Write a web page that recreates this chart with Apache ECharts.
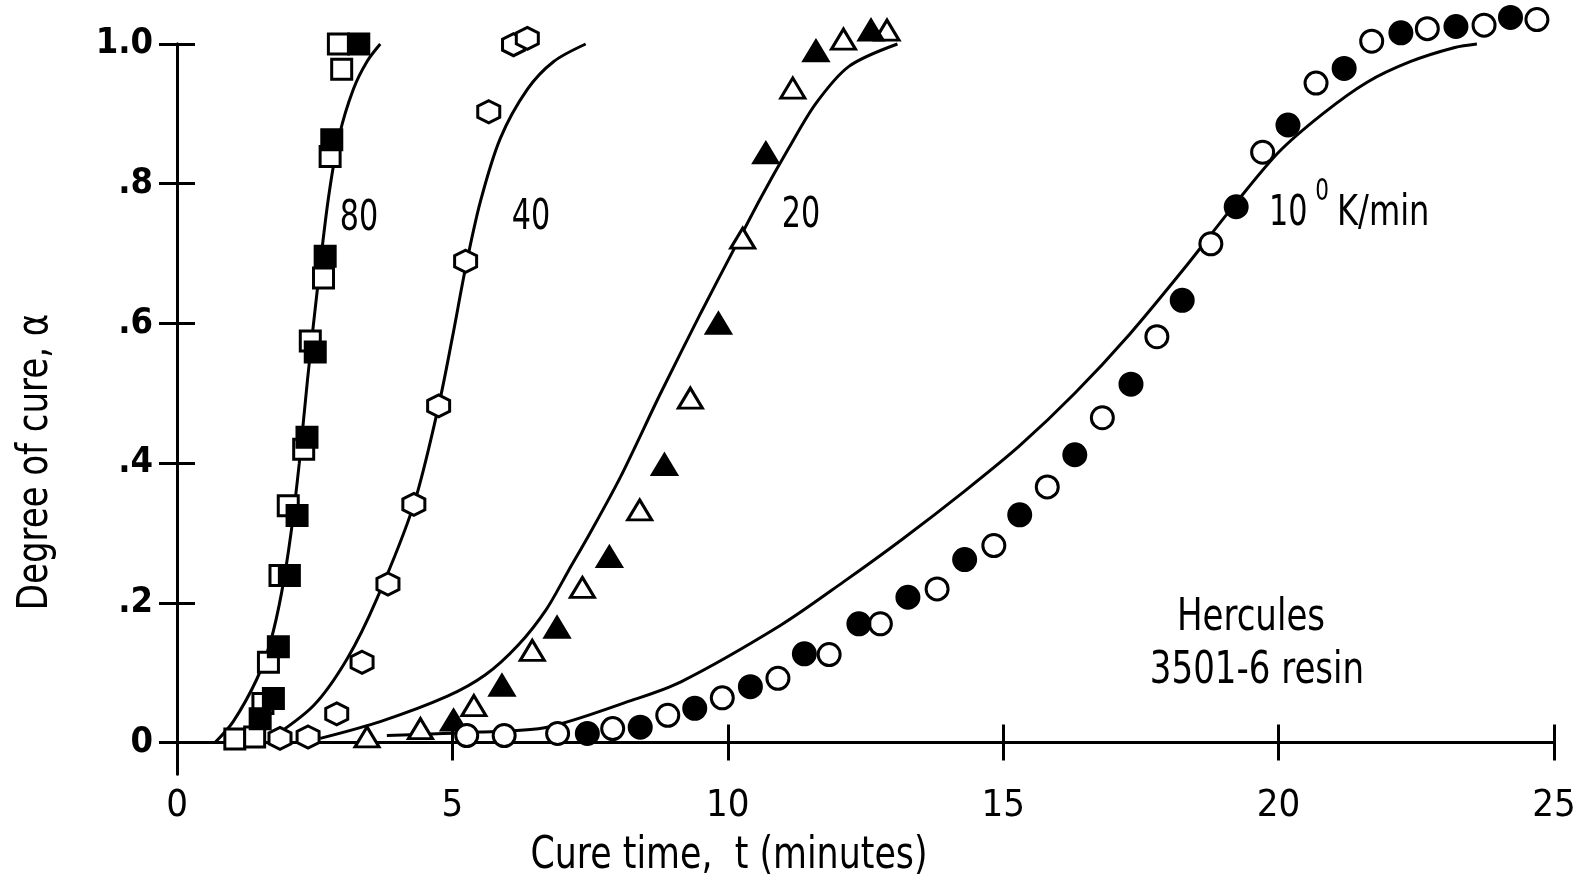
<!DOCTYPE html>
<html>
<head>
<meta charset="utf-8">
<script src="https://cdn.jsdelivr.net/npm/echarts@6/dist/echarts.min.js"></script>
<style>
html, body { margin: 0; padding: 0; background: #fff; }
#main { width: 1585px; height: 881px; }
</style>
</head>
<body>
<div id="main"></div>
<script>
const FONT = "'DejaVu Sans Condensed', 'Liberation Sans Narrow', sans-serif";

// axis ticks
const xTicks = [0, 5, 10, 15, 20, 25];
const yTicks = [0, 0.2, 0.4, 0.6, 0.8, 1.0];
const yTickLabels = ['0', '.2', '.4', '.6', '.8', '1.0'];

// 80 K/min  (squares)
const sq80Open = [[1.05,0.005],[1.41,0.008],[1.56,0.056],[1.66,0.115],[1.87,0.239],[2.02,0.339],[2.30,0.42],[2.42,0.575],[2.66,0.665],[2.78,0.839],[2.99,0.964],[2.93,1.0]];
const sq80Filled = [[1.51,0.034],[1.75,0.063],[1.84,0.137],[2.04,0.239],[2.18,0.325],[2.36,0.437],[2.51,0.559],[2.69,0.696],[2.81,0.863],[3.30,1.0]];
const curve80 = [[0.69,0],[1.02,0.03],[1.45,0.091],[1.7,0.145],[1.9,0.215],[2.07,0.30],[2.22,0.40],[2.37,0.52],[2.55,0.65],[2.75,0.78],[2.95,0.87],[3.2,0.935],[3.45,0.975],[3.69,1.0]];

// 40 K/min  (hexagons)
const hex40 = [[1.87,0.006],[2.38,0.008],[2.90,0.041],[3.36,0.115],[3.83,0.227],[4.30,0.341],[4.75,0.482],[5.24,0.689],[5.66,0.903],[6.11,0.999],[6.36,1.008]];
const curve40 = [[1.69,0.005],[2.48,0.053],[3.09,0.12],[3.63,0.206],[4.30,0.341],[4.75,0.482],[5.0,0.58],[5.24,0.68],[5.51,0.775],[5.87,0.865],[6.36,0.935],[6.84,0.975],[7.42,1.0]];

// 20 K/min  (triangles)
const tri20Open = [[3.45,0.008],[4.42,0.02],[5.39,0.053],[6.45,0.132],[7.36,0.222],[8.40,0.333],[9.32,0.493],[10.27,0.722],[11.18,0.937],[12.10,1.007],[12.89,1.02]];
const tri20Filled = [[5.02,0.032],[5.90,0.082],[6.90,0.165],[7.85,0.266],[8.85,0.398],[9.83,0.6],[10.69,0.844],[11.60,0.99],[12.6,1.02]];
const curve20 = [[2.6,0.006],[3.69,0.03],[4.9,0.066],[5.6,0.097],[6.2,0.14],[6.7,0.19],[7.1,0.245],[7.5,0.30],[8.05,0.38],[8.78,0.50],[9.51,0.615],[10.11,0.706],[10.6,0.78],[11.1,0.85],[11.6,0.915],[12.2,0.968],[13.08,1.0]];

// 10 K/min  (circles)
const circ10Open = [[5.26,0.01],[5.94,0.01],[6.91,0.013],[7.91,0.02],[8.91,0.039],[9.9,0.064],[10.91,0.092],[11.84,0.126],[12.77,0.17],[13.8,0.22],[14.83,0.282],[15.8,0.366],[16.8,0.465],[17.79,0.581],[18.77,0.714],[19.71,0.845],[20.68,0.944],[21.69,1.004],[22.7,1.022],[23.73,1.027],[24.69,1.035]];
const circ10Filled = [[7.45,0.013],[8.41,0.022],[9.4,0.049],[10.41,0.08],[11.39,0.127],[12.38,0.17],[13.27,0.208],[14.3,0.262],[15.3,0.326],[16.3,0.412],[17.32,0.513],[18.25,0.633],[19.23,0.767],[20.17,0.884],[21.19,0.965],[22.22,1.016],[23.22,1.025],[24.21,1.038]];
const curve10 = [[3.81,0.01],[5.51,0.015],[6.72,0.022],[8.24,0.06],[9.15,0.087],[10.96,0.168],[12.1,0.23],[13.15,0.29],[14.3,0.36],[15.3,0.425],[16.3,0.5],[17.3,0.585],[18.3,0.68],[19.2,0.77],[20.0,0.845],[20.8,0.9],[21.6,0.945],[22.4,0.975],[23.2,0.995],[23.6,1.0]];

const HEX = 'path://M50,0 L93.3,25 L93.3,75 L50,100 L6.7,75 L6.7,25 Z';

const myChart = echarts.init(document.getElementById('main'));

function curve(name, data) {
	return {
		name: name, type: 'line', data: data,
		smooth: 0.3,
		showSymbol: false, clip: false, z: 2,
		lineStyle: { color: '#000', width: 3 },
		emphasis: { disabled: true }
	};
}

function points(name, data, symbol, size, filled) {
	return {
		name: name, type: 'scatter', data: data,
		symbol: symbol, symbolSize: size, clip: false, z: 3,
		itemStyle: { color: filled ? '#000' : '#fff', borderColor: '#000', borderWidth: 3, opacity: 1 },
		emphasis: { disabled: true }
	};
}

function yLabel(v) {
	for (let i = 0; i < yTicks.length; i++) {
		if (Math.abs(yTicks[i] - v) < 1e-6) return yTickLabels[i];
	}
	return '';
}

const lineStyle = { color: '#000', width: 3 };

//文字 (condensed by scaleX)
function text(t, x, y, size, sx, align, extra) {
	return Object.assign({
		type: 'text', x: x, y: y, scaleX: sx,
		style: { text: t, font: size + 'px ' + FONT, fill: '#000', align: align || 'center', verticalAlign: 'middle' }
	}, extra || {});
}

let option = {
	backgroundColor: '#fff',
	animation: false,
	grid: { left: 177, right: 31, top: 44, bottom: 107 },
	xAxis: [{
		type: 'value', position: 'bottom', min: 0, max: 25, interval: 5,
		axisLine: { show: true, lineStyle: lineStyle },
		axisTick: { show: true, inside: true, length: 18, lineStyle: lineStyle },
		axisLabel: { fontFamily: FONT, fontSize: 38, color: '#000', margin: 13 },
		splitLine: { show: false }
	}, {
		type: 'value', position: 'top', min: 0, max: 25, interval: 5,
		axisLine: { show: true, lineStyle: lineStyle },
		axisTick: { show: true, inside: true, length: 18, lineStyle: lineStyle },
		axisLabel: { show: false },
		splitLine: { show: false }
	}],
	yAxis: [{
		type: 'value', position: 'left', min: -0.045, max: 1.0,
		axisLine: { show: true, lineStyle: lineStyle },
		axisTick: { show: true, inside: true, length: 18, lineStyle: lineStyle, customValues: yTicks },
		axisLabel: { fontFamily: FONT, fontSize: 36, fontWeight: 'bold', color: '#000', margin: 24, customValues: yTicks, formatter: yLabel },
		splitLine: { show: false }
	}, {
		type: 'value', position: 'right', min: -0.045, max: 1.0,
		axisLine: { show: true, lineStyle: lineStyle },
		axisTick: { show: true, inside: true, length: 18, lineStyle: lineStyle, customValues: yTicks },
		axisLabel: { show: false },
		splitLine: { show: false }
	}],
	series: [
		curve('80 curve', curve80),
		curve('40 curve', curve40),
		curve('20 curve', curve20),
		curve('10 curve', curve10),
		points('80 open', sq80Open, 'rect', 20, false),
		points('80 filled', sq80Filled, 'rect', 20, true),
		points('40', hex40, HEX, 22, false),
		points('20 open', tri20Open, 'triangle', [24, 20], false),
		points('20 filled', tri20Filled, 'triangle', [24, 20], true),
		points('10 open', circ10Open, 'circle', 22, false),
		points('10 filled', circ10Filled, 'circle', 22, true)
	],
	graphic: [
		text('80', 359, 219, 42, 0.8),
		text('40', 531, 218, 42, 0.8),
		text('20', 801, 216, 42, 0.8),
		text('10', 1269, 214, 42, 0.8, 'left'),
		text('0', 1322, 192, 30, 0.8),
		text('K/min', 1337, 214, 42, 0.85, 'left'),
		text('Hercules', 1251, 619, 44, 0.86),
		text('3501-6 resin', 1257, 672, 44, 0.86),
		text('Cure time,  t (minutes)', 729, 857, 44, 0.88),
		text('Degree of cure, \u03b1', 36, 462, 42, 1, 'center', { rotation: Math.PI / 2, scaleX: 0.9 })
	]
};

myChart.setOption(option);
</script>
</body>
</html>
